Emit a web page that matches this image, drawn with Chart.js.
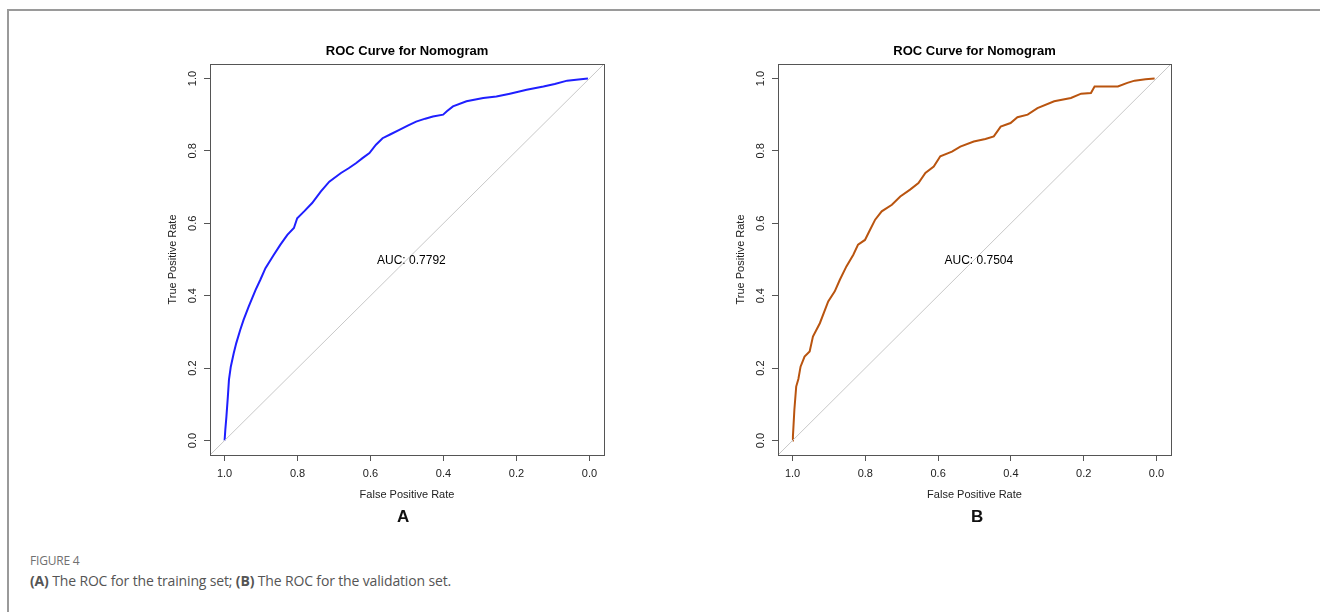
<!DOCTYPE html>
<html>
<head>
<meta charset="utf-8">
<script src="https://cdn.jsdelivr.net/npm/chart.js@4/dist/chart.umd.min.js"></script>
<style>
  html, body { margin: 0; padding: 0; background: #fff; }
  body { width: 1320px; height: 612px; position: relative; overflow: hidden; font-family: "Liberation Sans", Arial, sans-serif; }
  .frame { position: absolute; left: 7px; top: 9px; width: 1400px; height: 700px; border-top: 2px solid #9a9a9a; border-left: 2px solid #9a9a9a; }
  canvas { position: absolute; }
  #cA { left: 140px; top: 30px; }
  #cB { left: 708px; top: 30px; }
  .panel { position: absolute; top: 507px; font: bold 17px "Liberation Sans", Arial, sans-serif; color: #111; }
  .figlabel { position: absolute; left: 30px; top: 552px; font: 12px "Open Sans", sans-serif; color: #707070; letter-spacing: -0.2px; }
  .caption { position: absolute; left: 30px; top: 571px; font: 14px "Open Sans", sans-serif; color: #555; letter-spacing: -0.15px; white-space: nowrap; }
  .caption b { font-weight: 700; }
</style>
</head>
<body>
<div class="frame"></div>
<canvas id="cA" width="480" height="500"></canvas>
<canvas id="cB" width="480" height="500"></canvas>
<div class="panel" style="left:397px">A</div>
<div class="panel" style="left:971px">B</div>
<div class="figlabel">FIGURE 4</div>
<div class="caption"><b>(A)</b> The ROC for the training set; <b>(B)</b> The ROC for the validation set.</div>
<script>
// ---- data ----
const chartTitle = "ROC Curve for Nomogram";
const xAxisTitle = "False Positive Rate";
const yAxisTitle = "True Positive Rate";
const tickValues = [0, 0.2, 0.4, 0.6, 0.8, 1.0];
const aucTextA = "AUC: 0.7792";
const aucTextB = "AUC: 0.7504";

// training set (specificity, sensitivity)
const specA = [1.0, 0.998, 0.995, 0.991, 0.988, 0.983, 0.975, 0.968, 0.957, 0.948, 0.934, 0.915, 0.902, 0.888, 0.865, 0.847, 0.828, 0.810, 0.801, 0.782, 0.760, 0.736, 0.713, 0.681, 0.660, 0.640, 0.622, 0.603, 0.585, 0.567, 0.545, 0.521, 0.498, 0.475, 0.450, 0.429, 0.401, 0.390, 0.374, 0.337, 0.291, 0.255, 0.218, 0.172, 0.126, 0.095, 0.061, 0.030, 0.004];
const sensA = [0.0, 0.030, 0.066, 0.122, 0.168, 0.204, 0.241, 0.269, 0.306, 0.333, 0.370, 0.416, 0.444, 0.476, 0.513, 0.541, 0.568, 0.587, 0.614, 0.633, 0.656, 0.688, 0.715, 0.739, 0.752, 0.766, 0.780, 0.794, 0.817, 0.835, 0.846, 0.858, 0.870, 0.881, 0.889, 0.895, 0.900, 0.910, 0.923, 0.937, 0.946, 0.950, 0.958, 0.969, 0.978, 0.985, 0.994, 0.997, 1.0];

// validation set (specificity, sensitivity)
const specB = [1.0, 0.999, 0.995, 0.990, 0.984, 0.978, 0.967, 0.953, 0.944, 0.925, 0.902, 0.884, 0.870, 0.852, 0.833, 0.820, 0.801, 0.787, 0.773, 0.755, 0.727, 0.704, 0.677, 0.654, 0.635, 0.612, 0.594, 0.562, 0.539, 0.502, 0.470, 0.447, 0.428, 0.401, 0.382, 0.354, 0.327, 0.281, 0.235, 0.207, 0.180, 0.170, 0.106, 0.080, 0.060, 0.030, 0.005];
const sensB = [0.0, 0.011, 0.085, 0.149, 0.170, 0.204, 0.232, 0.246, 0.287, 0.324, 0.384, 0.412, 0.444, 0.481, 0.513, 0.541, 0.554, 0.582, 0.610, 0.633, 0.651, 0.674, 0.693, 0.711, 0.739, 0.757, 0.785, 0.798, 0.812, 0.826, 0.833, 0.840, 0.867, 0.877, 0.893, 0.900, 0.918, 0.937, 0.946, 0.958, 0.960, 0.978, 0.978, 0.988, 0.994, 0.998, 1.0];

// chance diagonal
const diagSpec = [1.04, -0.04];
const diagSens = [-0.04, 1.04];

const AXIS_COLOR = "#555";
const FONT = "'Liberation Sans', Arial, sans-serif";

function pts(xs, ys) { return xs.map((x, i) => ({ x: x, y: ys[i] })); }

function boxPlugin(aucText) {
  return {
    id: "rbox",
    afterDraw(chart) {
      const { ctx, chartArea: a, scales } = chart;
      ctx.save();
      ctx.strokeStyle = AXIS_COLOR;
      ctx.lineWidth = 1;
      ctx.strokeRect(Math.round(a.left) + 0.5, Math.round(a.top) + 0.5, Math.round(a.right - a.left), Math.round(a.bottom - a.top));
      ctx.fillStyle = "#000";
      ctx.textAlign = "center";
      ctx.textBaseline = "middle";
      ctx.font = "bold 13px " + FONT;
      ctx.fillText(chartTitle, (a.left + a.right) / 2, 21);
      ctx.font = "12px " + FONT;
      ctx.fillText(aucText, scales.x.getPixelForValue(0.488), scales.y.getPixelForValue(0.497));
      ctx.restore();
    }
  };
}

function makeChart(id, spec, sens, color, aucText, padRight) {
  new Chart(document.getElementById(id), {
    type: "line",
    data: {
      datasets: [
        { data: pts(diagSpec, diagSens), borderColor: "#c8c8c8", borderWidth: 1, pointRadius: 0, tension: 0 },
        { data: pts(spec, sens), borderColor: color, borderWidth: 2, pointRadius: 0, tension: 0 }
      ]
    },
    options: {
      responsive: false,
      animation: false,
      events: [],
      layout: { padding: { top: 34, right: padRight, left: 0, bottom: 0 } },
      plugins: { legend: { display: false }, tooltip: { enabled: false }, title: { display: false } },
      scales: {
        x: {
          type: "linear", reverse: true, min: -0.04, max: 1.04,
          afterBuildTicks(s) { s.ticks = tickValues.map(v => ({ value: v })); },
          afterFit(s) { s.height = 75; },
          grid: { drawOnChartArea: false, drawTicks: true, tickLength: 6, color: AXIS_COLOR, tickColor: AXIS_COLOR },
          border: { display: false },
          ticks: { color: "#222", font: { family: FONT, size: 11 }, padding: 6, maxRotation: 0, minRotation: 0, callback: v => Number(v).toFixed(1) },
          title: { display: true, text: xAxisTitle, color: "#222", font: { family: FONT, size: 11 }, padding: { top: 0, bottom: 28 } }
        },
        y: {
          type: "linear", min: -0.04, max: 1.04,
          afterBuildTicks(s) { s.ticks = tickValues.map(v => ({ value: v })); },
          afterFit(s) { s.width = 70; },
          grid: { drawOnChartArea: false, drawTicks: true, tickLength: 6, color: AXIS_COLOR, tickColor: AXIS_COLOR },
          border: { display: false },
          ticks: { color: "#222", font: { family: FONT, size: 11 }, padding: 3, minRotation: 90, maxRotation: 90, crossAlign: "center", callback: v => Number(v).toFixed(1) },
          title: { display: true, text: yAxisTitle, color: "#222", font: { family: FONT, size: 11 }, padding: { top: 26, bottom: 0 } }
        }
      }
    },
    plugins: [boxPlugin(aucText)]
  });
}

makeChart("cA", specA, sensA, "#1f1fff", aucTextA, 16);
makeChart("cB", specB, sensB, "#b9540f", aucTextB, 17);
</script>
</body>
</html>
